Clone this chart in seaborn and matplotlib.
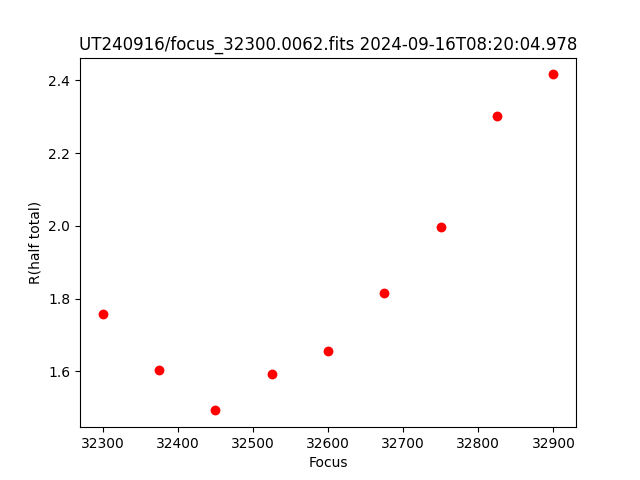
import matplotlib
matplotlib.use('Agg')
import matplotlib.pyplot as plt
import seaborn as sns
import pandas as pd

# focus positions and half-light radius
focus = [32300, 32375, 32450, 32525, 32600, 32675, 32750, 32825, 32900]
r_half = [1.757, 1.603, 1.493, 1.592, 1.655, 1.815, 1.996, 2.301, 2.416]

df = pd.DataFrame({'Focus': focus, 'R(half total)': r_half})

fig, ax = plt.subplots(figsize=(6.4, 4.8), dpi=100)
sns.scatterplot(data=df, x='Focus', y='R(half total)', ax=ax,
                color='red', marker='o', s=50, linewidth=0)
ax.set_title('UT240916/focus_32300.0062.fits 2024-09-16T08:20:04.978')
ax.set_xlabel('Focus')
ax.set_ylabel('R(half total)')

plt.savefig('out.png', dpi=100)
